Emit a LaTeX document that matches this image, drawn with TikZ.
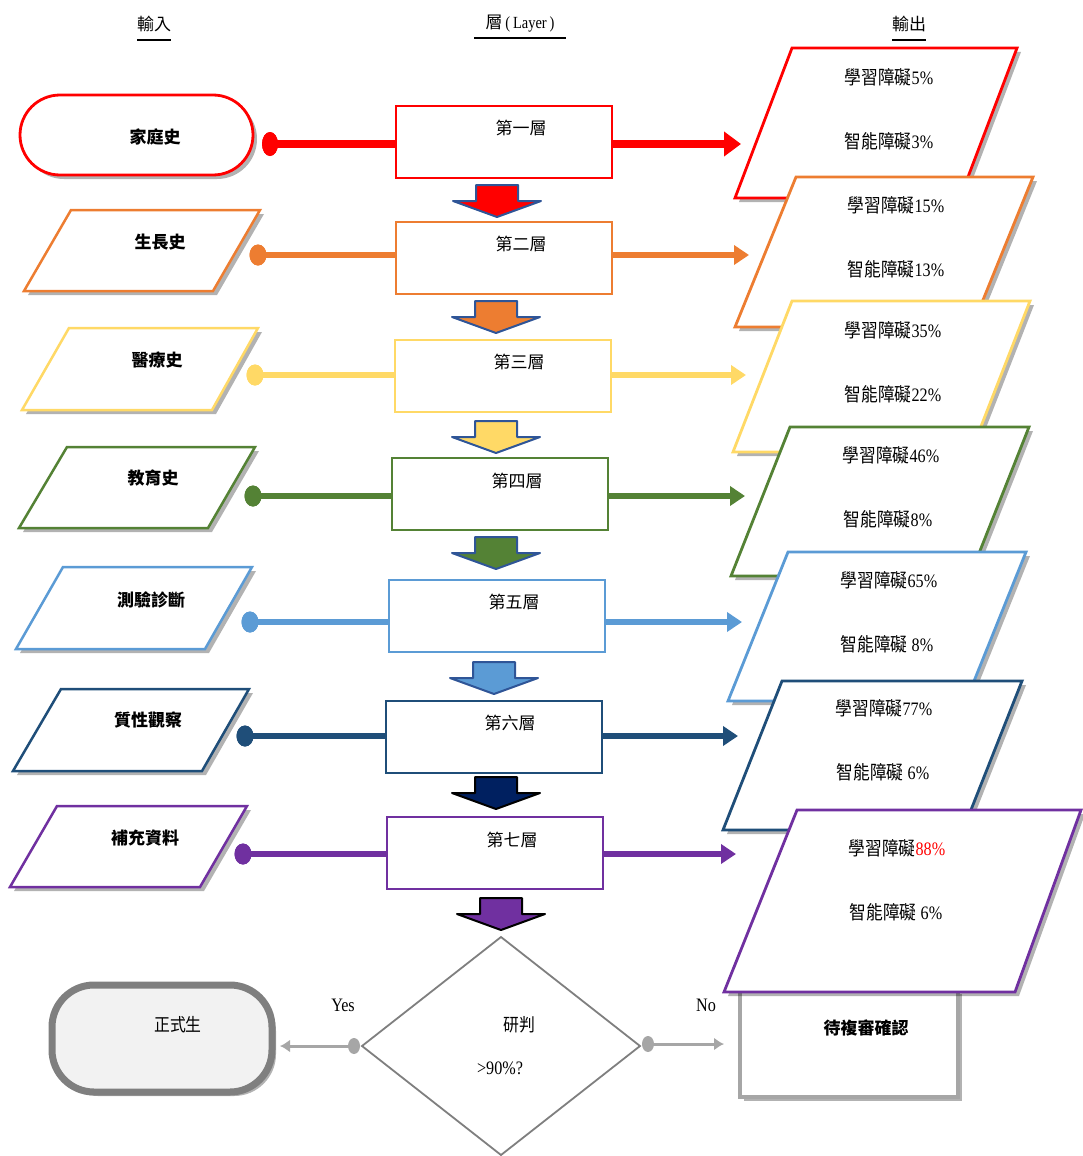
\documentclass[tikz,border=0pt]{standalone}
\usepackage{fontspec}
\setmainfont{Liberation Serif}
\newfontfamily\cjk{Noto Sans CJK TC}
\newfontfamily\cjkn[FakeStretch=0.88]{Noto Sans CJK TC}
\newfontfamily\sern[FakeStretch=0.85]{Liberation Serif}
\usetikzlibrary{arrows.meta,shadows,shapes.geometric}
\definecolor{cRed}{HTML}{FF0000}
\definecolor{cOrg}{HTML}{ED7D31}
\definecolor{cYel}{HTML}{FFD966}
\definecolor{cGrn}{HTML}{548235}
\definecolor{cLbl}{HTML}{5B9BD5}
\definecolor{cDbl}{HTML}{1F4E79}
\definecolor{cPur}{HTML}{7030A0}
\definecolor{cNav}{HTML}{002060}
\definecolor{cArrEdge}{HTML}{2F5597}
\definecolor{cGry}{HTML}{7F7F7F}
\definecolor{cLgry}{HTML}{A6A6A6}
\definecolor{cFill}{HTML}{F2F2F2}
\newcommand{\blkarrow}[4]{%
  \draw[line width=2pt, draw=#4, fill=#3, line join=round]
    ({#1-21},{#2}) -- ({#1+21},{#2}) -- ({#1+21},{#2+16}) -- ({#1+44},{#2+16})
    -- ({#1},{#2+32}) -- ({#1-44},{#2+16}) -- ({#1-21},{#2+16}) -- cycle;}
\begin{document}
\begin{tikzpicture}[x=1pt,y=-1pt,
  hdr/.style={font=\cjk\fontsize{17}{19}\selectfont, inner sep=0pt},
  inlbl/.style={font=\cjk\bfseries\fontsize{17}{19}\selectfont, inner sep=0pt},
  laytxt/.style={font=\cjk\fontsize{17}{19}\selectfont, inner sep=0pt},
  outtxt/.style={font=\fontsize{19}{21}\selectfont, inner sep=0pt},
  lay/.style={draw, line width=2pt, fill=white, minimum width=216pt, minimum height=72pt, inner sep=0pt},
  shad/.style={drop shadow={shadow xshift=4pt, shadow yshift=-4pt, opacity=0.3, fill=black}},
  inshape/.style={line width=2.5pt, fill=white, line join=miter, shad},
  outshape/.style={line width=2.8pt, fill=white, line join=miter, shad},
  dot/.style={ellipse, inner sep=0pt, minimum width=17pt, minimum height=21pt},
  conn/.style={line width=6pt},
  tipA/.style={-{Triangle[length=15pt,width=19pt]}},
  gconn/.style={line width=3pt, draw=cLgry, -{Latex[length=10pt,width=13pt]}},
]
\useasboundingbox (0,0) rectangle (1083,1156);

% headers
\node[hdr] (h1) at (154,24) {輸入};
\node[hdr] (h2) at (520,24) {層{\rmfamily\sern\,(\,Layer\,)}};
\node[hdr] (h3) at (909,24) {輸出};
\draw[line width=1.5pt] (137,40) -- (171,40);
\draw[line width=2pt] (474,38) -- (566,38);
\draw[line width=1.5pt] (892,40) -- (926,40);

% dots (positions) and tips
\coordinate (t1) at (741,144);
\coordinate (t2) at (749,255);
\coordinate (t3) at (746,375);
\coordinate (t4) at (745,496);
\coordinate (t5) at (742,622);
\coordinate (t6) at (738,736);
\coordinate (t7) at (736,854);

\node[dot, fill=cRed, minimum width=16pt, minimum height=24pt] (d1) at (270,144) {};
\node[dot, fill=cOrg] (d2) at (258,255) {};
\node[dot, fill=cYel] (d3) at (255,375) {};
\node[dot, fill=cGrn] (d4) at (253,496) {};
\node[dot, fill=cLbl] (d5) at (250,622) {};
\node[dot, fill=cDbl] (d6) at (245,736) {};
\node[dot, fill=cPur] (d7) at (243,854) {};

% connectors
\draw[conn, line width=8pt, draw=cRed, tipA, -{Triangle[length=17pt,width=24pt]}] (d1.center) -- (t1);
\draw[conn, draw=cOrg, tipA] (d2.center) -- (t2);
\draw[conn, draw=cYel, tipA] (d3.center) -- (t3);
\draw[conn, draw=cGrn, tipA] (d4.center) -- (t4);
\draw[conn, draw=cLbl, tipA] (d5.center) -- (t5);
\draw[conn, draw=cDbl, tipA] (d6.center) -- (t6);
\draw[conn, draw=cPur, tipA] (d7.center) -- (t7);

% layer boxes
\node[lay, draw=cRed] (B1) at (504,142) {};
\node[lay, draw=cOrg] (B2) at (504,258) {};
\node[lay, draw=cYel] (B3) at (502.5,375.5) {};
\node[lay, draw=cGrn] (B4) at (499.5,493.5) {};
\node[lay, draw=cLbl] (B5) at (496.5,615.5) {};
\node[lay, draw=cDbl] (B6) at (493.5,737) {};
\node[lay, draw=cPur] (B7) at (495,853) {};
\node[laytxt] (b1t) at (521,128) {第一層};
\node[laytxt] (b2t) at (521,244) {第二層};
\node[laytxt] (b3t) at (519,362) {第三層};
\node[laytxt] (b4t) at (517,481) {第四層};
\node[laytxt] (b5t) at (514,602) {第五層};
\node[laytxt] (b6t) at (510,723) {第六層};
\node[laytxt] (b7t) at (512,840) {第七層};

% redraw dots on top
\node[dot, fill=cRed, minimum width=16pt, minimum height=24pt] at (d1) {};
\node[dot, fill=cOrg] at (d2) {};
\node[dot, fill=cYel] at (d3) {};
\node[dot, fill=cGrn] at (d4) {};
\node[dot, fill=cLbl] at (d5) {};
\node[dot, fill=cDbl] at (d6) {};
\node[dot, fill=cPur] at (d7) {};

% input shapes
\draw[line width=2.8pt, draw=cRed, fill=white, rounded corners=40pt, shad] (20,95) rectangle (253,175);
\draw[inshape, draw=cOrg] (71,210) -- (260,210) -- (213,291) -- (24,291) -- cycle;
\draw[inshape, draw=cYel] (69,328) -- (258,328) -- (212,410) -- (22,410) -- cycle;
\draw[inshape, draw=cGrn] (67,447) -- (255,447) -- (208,528) -- (19,528) -- cycle;
\draw[inshape, draw=cLbl] (63,567) -- (252,567) -- (205,649) -- (16,649) -- cycle;
\draw[inshape, draw=cDbl] (61,689) -- (249,689) -- (202,771) -- (13,771) -- cycle;
\draw[inshape, draw=cPur] (57,806) -- (247,806) -- (200,887) -- (10,887) -- cycle;
\node[inlbl] (i1) at (155,137) {家庭史};
\node[inlbl] (i2) at (160,242) {生長史};
\node[inlbl] (i3) at (157,360) {醫療史};
\node[inlbl] (i4) at (153,478) {教育史};
\node[inlbl] (i5) at (151,600) {測驗診斷};
\node[inlbl] (i6) at (148,720) {質性觀察};
\node[inlbl] (i7) at (145,838) {補充資料};

% pending box (under purple output)
\node[draw=cLgry, line width=3.5pt, fill=white, minimum width=218pt, minimum height=107pt, shad] (P) at (849,1043.5) {};
\node[inlbl] (pt) at (866,1028) {待複審確認};

% output shapes
\draw[outshape, draw=cRed] (792,48) -- (1017,48) -- (960,198) -- (735,198) -- cycle;
\node[outtxt] (o1a) at (889,77) {{\cjkn 學習障礙}{\sern 5\%}};
\node[outtxt] (o1b) at (889,141) {{\cjkn 智能障礙}{\sern 3\%}};
\draw[outshape, draw=cOrg] (796,177) -- (1033,177) -- (972,327) -- (735,327) -- cycle;
\node[outtxt] (o2a) at (896,205) {{\cjkn 學習障礙}{\sern 15\%}};
\node[outtxt] (o2b) at (896,269) {{\cjkn 智能障礙}{\sern 13\%}};
\draw[outshape, draw=cYel] (792,301) -- (1030,301) -- (971,452) -- (733,452) -- cycle;
\node[outtxt] (o3a) at (893,330) {{\cjkn 學習障礙}{\sern 35\%}};
\node[outtxt] (o3b) at (893,394) {{\cjkn 智能障礙}{\sern 22\%}};
\draw[outshape, draw=cGrn] (790,427) -- (1029,427) -- (970,576) -- (731,576) -- cycle;
\node[outtxt] (o4a) at (891,455) {{\cjkn 學習障礙}{\sern 46\%}};
\node[outtxt] (o4b) at (888,519) {{\cjkn 智能障礙}{\sern 8\%}};
\draw[outshape, draw=cLbl] (788,552) -- (1026,552) -- (966,701) -- (728,701) -- cycle;
\node[outtxt] (o5a) at (889,580) {{\cjkn 學習障礙}{\sern 65\%}};
\node[outtxt] (o5b) at (887,644) {{\cjkn 智能障礙}{\sern\ 8\%}};
\draw[outshape, draw=cDbl] (782,681) -- (1022,681) -- (963,830) -- (723,830) -- cycle;
\node[outtxt] (o6a) at (884,708) {{\cjkn 學習障礙}{\sern 77\%}};
\node[outtxt] (o6b) at (883,772) {{\cjkn 智能障礙}{\sern\ 6\%}};
\draw[outshape, draw=cPur] (797,810) -- (1081,810) -- (1015,992) -- (724,992) -- cycle;
\node[outtxt] (o7a) at (897,848) {{\cjkn 學習障礙}{\sern\color{cRed}88\%}};
\node[outtxt] (o7b) at (896,912) {{\cjkn 智能障礙}{\sern\ 6\%}};

% block arrows
\blkarrow{497}{185}{cRed}{cArrEdge}
\blkarrow{496}{301}{cOrg}{cArrEdge}
\blkarrow{496}{421}{cYel}{cArrEdge}
\blkarrow{496}{537}{cGrn}{cArrEdge}
\blkarrow{494}{662}{cLbl}{cArrEdge}
\blkarrow{496}{777}{cNav}{black}
\blkarrow{501}{898}{cPur}{black}

% bottom: decision
\draw[line width=1.8pt, draw=cGry, fill=white] (501,937) -- (640,1046) -- (501,1155) -- (362,1046) -- cycle;
\coordinate (DL) at (362,1046);
\coordinate (DR) at (640,1046);
\node[laytxt, font=\cjkn\fontsize{18}{20}\selectfont] (dt1) at (519,1025) {研判};
\node[outtxt] (dt2) at (500,1068) {\sern >90\%?};

% final student
\draw[line width=7pt, draw=cGry, fill=cFill, rounded corners=42pt, shad] (52,985) rectangle (272,1092);
\node[laytxt, font=\cjkn\fontsize{18}{20}\selectfont] (ft) at (178,1025) {正式生};
\coordinate (yt) at (280,1046);
\coordinate (nt) at (724,1044);
\node[ellipse, fill=cLgry, inner sep=0pt, minimum width=12pt, minimum height=16pt] (yd) at (354,1046) {};
\node[ellipse, fill=cLgry, inner sep=0pt, minimum width=12pt, minimum height=16pt] (nd) at (648,1044) {};
\draw[gconn] (yd.center) -- (yt);
\draw[gconn] (nd.center) -- (nt);
\node[outtxt] (yes) at (343,1005) {\sern Yes};
\node[outtxt] (no) at (706,1005) {\sern No};
\end{tikzpicture}
\end{document}
